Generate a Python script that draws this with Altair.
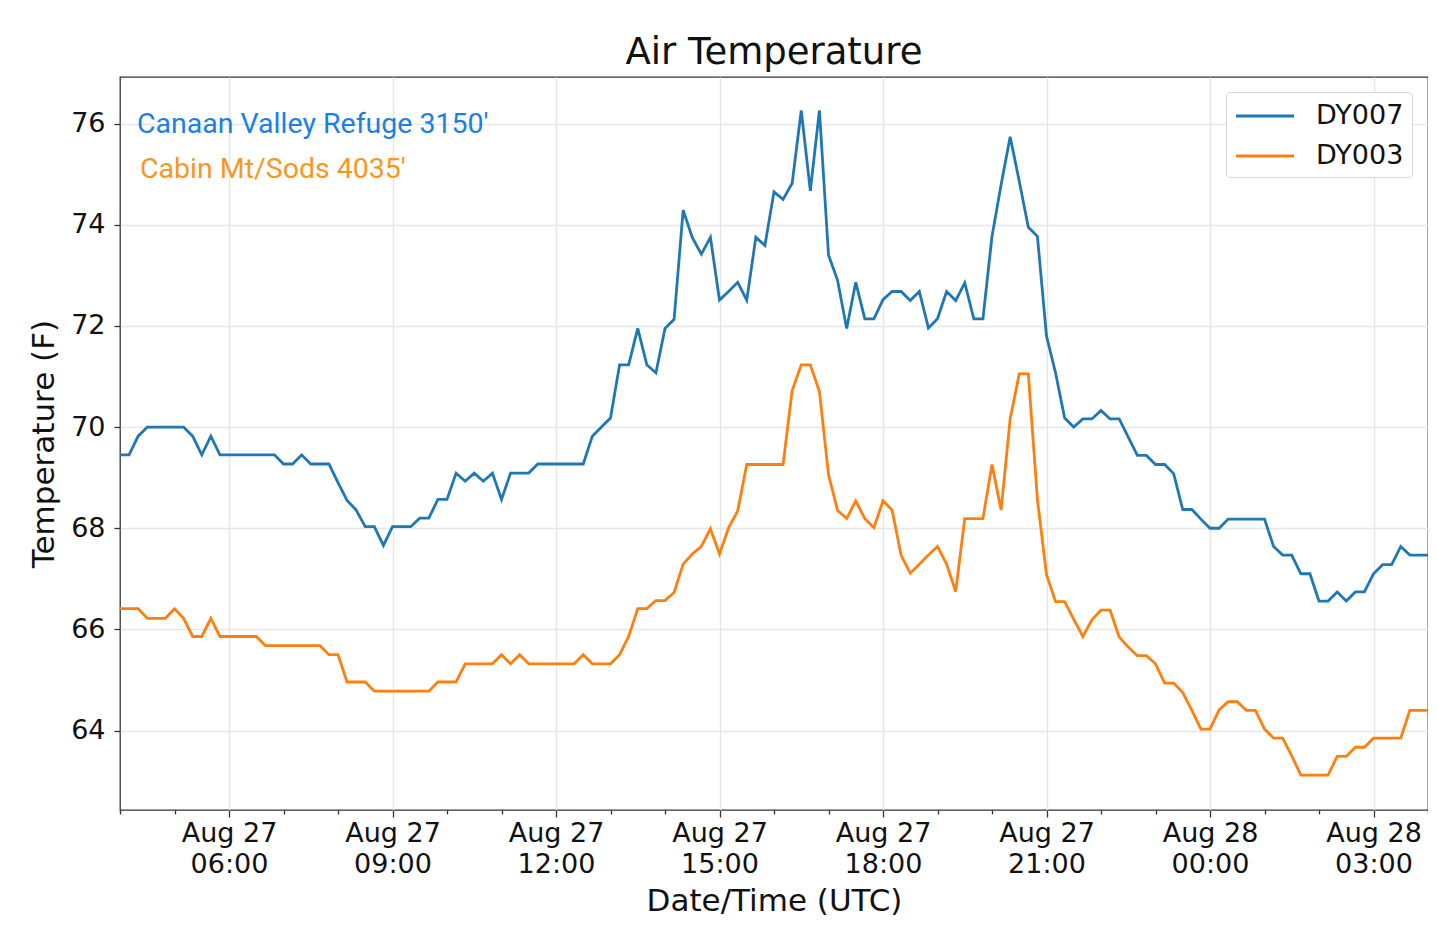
import altair as alt
import pandas as pd

# ---- data (10-minute readings, Aug 27 04:00 UTC onward) ----
dy007 = [
    69.45, 69.45, 69.82, 70.0, 70.0, 70.0, 70.0, 70.0, 69.82, 69.45,
    69.82, 69.45, 69.45, 69.45, 69.45, 69.45, 69.45, 69.45, 69.27, 69.27,
    69.45, 69.27, 69.27, 69.27, 68.9, 68.55, 68.36, 68.03, 68.03, 67.66,
    68.03, 68.03, 68.03, 68.2, 68.2, 68.57, 68.57, 69.09, 68.93, 69.09,
    68.93, 69.09, 68.57, 69.09, 69.09, 69.09, 69.27, 69.27, 69.27, 69.27,
    69.27, 69.27, 69.82, 70.0, 70.18, 71.23, 71.23, 71.95, 71.23, 71.07,
    71.95, 72.13, 74.29, 73.75, 73.42, 73.75, 72.51, 72.68, 72.86, 72.51,
    73.75, 73.59, 74.65, 74.5, 74.82, 76.26, 74.67, 76.26, 73.4, 72.9,
    71.95, 72.86, 72.14, 72.14, 72.52, 72.68, 72.68, 72.5, 72.68, 71.96,
    72.14, 72.68, 72.5, 72.85, 72.14, 72.14, 73.77, 74.79, 75.74, 74.86,
    73.95, 73.77, 71.8, 71.07, 70.18, 70.0, 70.16, 70.16, 70.33, 70.16,
    70.16, 69.8, 69.44, 69.44, 69.26, 69.26, 69.08, 68.37, 68.37, 68.18,
    68.0, 68.0, 68.18, 68.18, 68.18, 68.18, 68.18, 67.64, 67.47, 67.47,
    67.1, 67.1, 66.56, 66.56, 66.74, 66.56, 66.74, 66.74, 67.1, 67.28,
    67.28, 67.64, 67.47, 67.47, 67.47,
]
dy003 = [
    66.41, 66.41, 66.41, 66.22, 66.22, 66.22, 66.41, 66.22, 65.86, 65.86,
    66.22, 65.86, 65.86, 65.86, 65.86, 65.86, 65.68, 65.68, 65.68, 65.68,
    65.68, 65.68, 65.68, 65.5, 65.5, 64.96, 64.96, 64.96, 64.78, 64.78,
    64.78, 64.78, 64.78, 64.78, 64.78, 64.96, 64.96, 64.96, 65.32, 65.32,
    65.32, 65.32, 65.5, 65.32, 65.5, 65.32, 65.32, 65.32, 65.32, 65.32,
    65.32, 65.5, 65.32, 65.32, 65.32, 65.5, 65.86, 66.41, 66.41, 66.57,
    66.57, 66.73, 67.29, 67.49, 67.64, 67.99, 67.49, 68.01, 68.34, 69.26,
    69.26, 69.26, 69.26, 69.26, 70.72, 71.23, 71.23, 70.7, 69.06, 68.35,
    68.19, 68.54, 68.19, 68.01, 68.54, 68.36, 67.46, 67.11, 67.29, 67.47,
    67.64, 67.29, 66.75, 68.19, 68.19, 68.19, 69.26, 68.36, 70.16, 71.05,
    71.05, 68.57, 67.08, 66.55, 66.55, 66.2, 65.86, 66.19, 66.38, 66.38,
    65.85, 65.65, 65.48, 65.48, 65.32, 64.94, 64.94, 64.75, 64.4, 64.03,
    64.03, 64.41, 64.57, 64.57, 64.4, 64.4, 64.03, 63.85, 63.85, 63.5,
    63.12, 63.12, 63.12, 63.12, 63.49, 63.49, 63.67, 63.67, 63.85, 63.85,
    63.85, 63.85, 64.4, 64.4, 64.4,
]
stations = ["DY007", "DY003"]
station_colors = ["#1f77b4", "#ff7f0e"]
note_texts = ["Canaan Valley Refuge 3150'", "Cabin Mt/Sods 4035'"]
note_colors = ["#1a7fe6", "#f5981f"]
y_ticks = [64, 66, 68, 70, 72, 74, 76]
y_domain = [62.43, 76.92]

start = pd.Timestamp("2019-08-27 04:00", tz="UTC")
end = pd.Timestamp("2019-08-28 04:00", tz="UTC")


def ms(ts):
    return int(ts.value // 10**6)


times = [ms(start + pd.Timedelta(minutes=10 * i)) for i in range(len(dy007))]
hour_ticks = [ms(t) for t in pd.date_range(start, end, freq="1h")]

rows = []
for name, series in zip(stations, [dy007, dy003]):
    for t, v in zip(times, series):
        rows.append({"time": t, "temp": v, "station": name})
df = pd.DataFrame(rows)

font = "DejaVu Sans"
major = "utchours(datum.value) % 3 === 0"

x_axis = alt.Axis(
    values=hour_ticks,
    labelExpr=f"{major} ? [utcFormat(datum.value, '%b %d'), utcFormat(datum.value, '%H:%M')] : ''",
    labelFont=font, labelFontSize=27, labelColor="#111", labelLineHeight=31.6,
    labelPadding=3, labelFlush=False, labelOverlap=False,
    tickSize={"condition": {"test": major, "value": 7}, "value": 4},
    tickColor="#333", tickWidth=1.3,
    grid=True, gridColor="#e6e6e6", gridWidth=1.4,
    gridOpacity={"condition": {"test": major, "value": 1}, "value": 0},
    domain=False,
    title="Date/Time (UTC)", titleFont=font, titleFontSize=31,
    titleFontWeight="normal", titleColor="#111", titlePadding=9,
)
y_axis = alt.Axis(
    values=y_ticks,
    labelFont=font, labelFontSize=27, labelColor="#111", labelPadding=9,
    tickSize=6, tickColor="#333", tickWidth=1.3,
    grid=True, gridColor="#e6e6e6", gridWidth=1.4,
    domain=False,
    title="Temperature (F)", titleFont=font, titleFontSize=31,
    titleFontWeight="normal", titleColor="#111", titlePadding=10,
)

lines = alt.Chart(df).mark_line(strokeWidth=2.8, clip=True).encode(
    x=alt.X("time:T", scale=alt.Scale(type="utc", domain=[ms(start), ms(end)]), axis=x_axis),
    y=alt.Y("temp:Q", scale=alt.Scale(domain=y_domain, nice=False, zero=False), axis=y_axis),
    color=alt.Color(
        "station:N",
        scale=alt.Scale(domain=stations, range=station_colors),
        sort=stations,
        legend=alt.Legend(
            title=None, orient="none", legendX=1106, legendY=15,
            symbolType="M-2,0L2,0", symbolSize=841, symbolStrokeWidth=2.8,
            symbolOffset=15,
            labelFont=font, labelFontSize=27, labelColor="#111", labelOffset=35,
            rowPadding=11, padding=8, strokeColor="#d5d5d5", fillColor="white",
            cornerRadius=4,
        ),
    ),
    detail="station:N",
)

notes_df = pd.DataFrame({"text": note_texts, "color": note_colors})
note1 = alt.Chart(notes_df.iloc[[0]]).mark_text(
    font="Roboto", fontSize=28.5, align="left", baseline="alphabetic"
).encode(text="text:N", color=alt.value(note_colors[0]), x=alt.value(17), y=alt.value(56))
note2 = alt.Chart(notes_df.iloc[[1]]).mark_text(
    font="Roboto", fontSize=28.5, align="left", baseline="alphabetic"
).encode(text="text:N", color=alt.value(note_colors[1]), x=alt.value(20), y=alt.value(101))

chart = alt.layer(lines, note1, note2).properties(
    width=1308, height=733,
    background="white",
    title=alt.TitleParams("Air Temperature", font=font, fontSize=37, fontWeight="normal",
                          color="#111", anchor="middle", offset=5),
    autosize=alt.AutoSizeParams(type="none"),
    padding={"left": 112, "top": 69, "right": 0, "bottom": 110},
).configure_view(stroke="#333", strokeWidth=1.3)

chart.save("out.html", embed_options={"renderer": "svg", "actions": False})
